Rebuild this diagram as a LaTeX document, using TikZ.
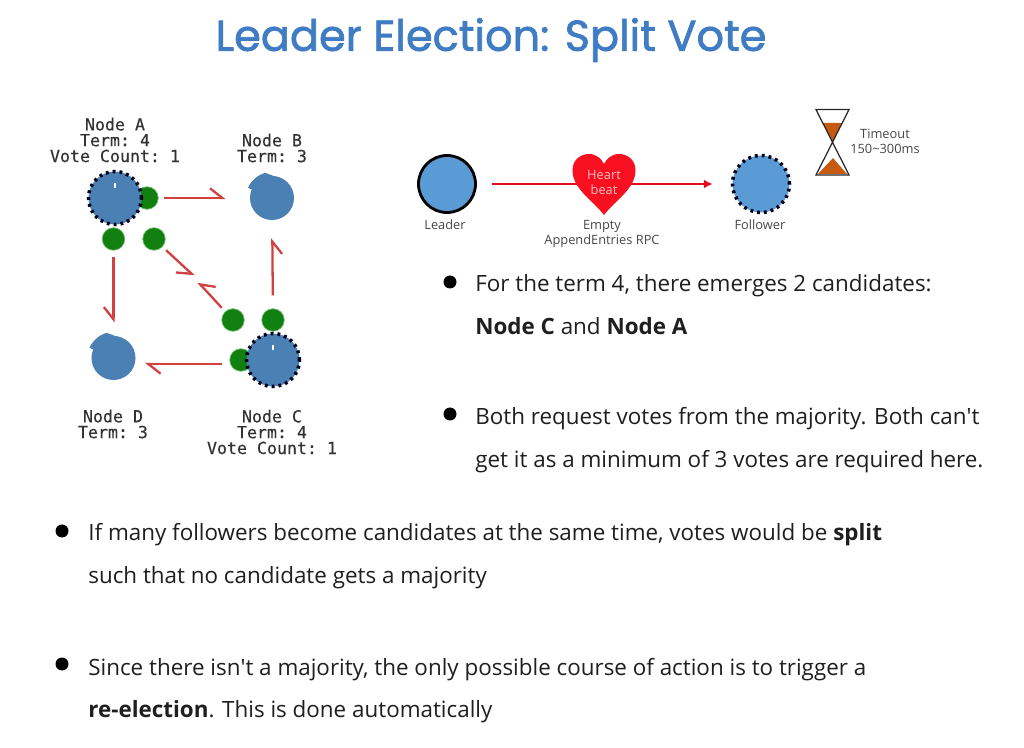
\documentclass[tikz,border=0pt]{standalone}
\usepackage{fontspec}
\setmainfont{Open Sans}
\setmonofont[FakeBold=0.3]{DejaVu Sans Mono}
\newfontfamily\titlefont[FakeBold=1.6]{Poppins}
\usetikzlibrary{arrows.meta,positioning,calc}
\definecolor{titleblue}{HTML}{3F7CC4}
\definecolor{nodeblue}{HTML}{4A80B4}
\definecolor{plainblue}{HTML}{5B9BD5}
\definecolor{votegreen}{HTML}{118011}
\definecolor{voteline}{HTML}{D2403F}
\definecolor{heartred}{HTML}{F80F20}
\definecolor{sand}{HTML}{C55A11}

\begin{document}
\begin{tikzpicture}[
            >=Stealth,
            bodytext/.style={anchor=base west, font=\fontsize{12.75}{14}\selectfont, text=black!88, inner sep=0pt},
            bullet/.style={circle, fill=black, inner sep=0pt, minimum size=0.26cm},
            monotext/.style={align=center, font=\ttfamily\fontsize{9.45}{9}\selectfont, text=black!80, inner sep=0pt},
            smalltext/.style={align=center, font=\fontsize{7.3}{8.6}\selectfont, text=black!72, inner sep=0pt},
            candidate/.style={circle, fill=nodeblue, inner sep=0pt, minimum size=1.06cm,
                              draw=black!90!blue, line width=2pt, dash pattern=on 1.6pt off 2.3pt},
            follower/.style={circle, fill=nodeblue, inner sep=0pt, minimum size=0.88cm},
            vote/.style={circle, fill=votegreen, draw=green!55!black!60, line width=0.4pt, inner sep=0pt, minimum size=0.45cm},
            votearrow/.style={-{Straight Barb[harpoon,length=7pt,width=11pt]}, line width=1.3pt, draw=voteline},
            votearrowswap/.style={-{Straight Barb[harpoon,swap,length=7pt,width=11pt]}, line width=1.3pt, draw=voteline},
            notch/.style={fill=nodeblue}
        ]
        \useasboundingbox (0,0) rectangle (20.48,14.94);
        \fill[white] (0,0) rectangle (20.48,14.94);

        %---------------- Title ----------------%
        \node[font=\titlefont\fontsize{24.5}{28}\selectfont, text=titleblue, inner sep=0pt] (title) at (9.82,14.14) {Leader Election: Split Vote};

        %---------------- Vote dots ----------------%
        \node[vote] (dotab) at (2.94,10.98) {};
        \node[vote] (dotad) at (2.27,10.16) {};
        \node[vote] (dotac) at (3.08,10.16) {};
        \node[vote] (dotca) at (4.66,8.54) {};
        \node[vote] (dotcb) at (5.46,8.54) {};
        \node[vote] (dotcd) at (4.82,7.74) {};

        %---------------- Cluster ----------------%
        \node[candidate] (nodea) at (2.30,10.98) {};
        \node[follower] (nodeb) at (5.44,10.98) {};
        \node[follower] (noded) at (2.27,7.78) {};
        \node[candidate] (nodec) at (5.46,7.74) {};
        \fill[notch] (nodeb.center) -- ++(157:0.52) arc (157:105:0.52) -- ++(-20:0.25) -- cycle;
        \fill[notch] (noded.center) -- ++(157:0.52) arc (157:105:0.52) -- ++(-20:0.25) -- cycle;
        \draw[white, line width=0.7pt] ($(nodea.center)+(0,0.2)$) -- ($(nodea.center)+(0,0.3)$);
        \draw[white, line width=0.7pt] ($(nodec.center)+(0,0.2)$) -- ($(nodec.center)+(0,0.3)$);

        \node[monotext] (labela) at (2.30,12.14) {Node A\\Term: 4\\Vote Count: 1};
        \node[monotext] (labelb) at (5.44,11.98) {Node B\\Term: 3};
        \node[monotext] (labeld) at (2.26,6.46) {Node D\\Term: 3};
        \node[monotext] (labelc) at (5.44,6.30) {Node C\\Term: 4\\Vote Count: 1};

        %================ Vote requests =================%
        \coordinate (midac) at (3.88,9.42);
        \coordinate (midca) at (3.96,9.30);
        \coordinate (portcd) at (4.44,7.66);
        \coordinate (portd) at (2.90,7.66);
        \draw[votearrow, shorten <=0.1cm, shorten >=0.48cm] (dotab) -- (nodeb);
        \draw[votearrowswap, shorten <=0.12cm, shorten >=0.26cm] (dotad) -- (noded);
        \draw[votearrowswap, shorten <=0.1cm, shorten >=0.0cm] (dotac) -- (midac);
        \draw[votearrowswap, shorten <=0.1cm, shorten >=0.0cm] (dotca) -- (midca);
        \draw[votearrowswap, shorten <=0.26cm, shorten >=0.36cm] (dotcb) -- (nodeb);
        \draw[votearrow] (portcd) -- (portd);

        %---------------- Heartbeat legend ----------------%
        \node[circle, fill=plainblue, draw=black, line width=1.6pt, inner sep=0pt, minimum size=1.14cm] (leader) at (8.94,11.26) {};
        \node[circle, fill=plainblue, draw=black!90!blue, line width=2pt, dash pattern=on 1.6pt off 2.3pt, inner sep=0pt, minimum size=1.14cm] (followerlegend) at (15.22,11.26) {};
        \draw[-{Latex[length=5pt,width=5pt]}, line width=1pt, draw=heartred!90!black, shorten <=0.3cm, shorten >=0.36cm] (leader) -- (followerlegend);
        \fill[heartred, shift={(12.08,11.26)}] (0,-0.62)
            .. controls (-0.2,-0.35) and (-0.63,-0.1) .. (-0.63,0.27)
            .. controls (-0.63,0.5) and (-0.45,0.6) .. (-0.3,0.6)
            .. controls (-0.15,0.6) and (-0.05,0.5) .. (0,0.4)
            .. controls (0.05,0.5) and (0.15,0.6) .. (0.3,0.6)
            .. controls (0.45,0.6) and (0.63,0.5) .. (0.63,0.27)
            .. controls (0.63,-0.1) and (0.2,-0.35) .. (0,-0.62) -- cycle;
        \node[smalltext, text=red!25!white] (heart) at (12.08,11.29) {Heart\\beat};
        \node[smalltext] (leaderlabel) at (8.9,10.44) {Leader};
        \node[smalltext] (rpclabel) at (12.04,10.26) {Empty\\AppendEntries RPC};
        \node[smalltext] (followerlabel) at (15.2,10.44) {Follower};

        %---------------- Hourglass ----------------%
        \coordinate (glassa) at (16.32,12.75);
        \coordinate (glassb) at (16.98,12.75);
        \coordinate (glassc) at (16.32,11.44);
        \coordinate (glassd) at (16.98,11.44);
        \fill[sand] (16.46,12.48) -- (16.84,12.48) -- (16.66,12.1) -- cycle;
        \fill[sand] (16.36,11.46) -- (16.94,11.46) -- (16.66,11.78) -- cycle;
        \draw[line width=0.7pt, black!85] (glassa) -- (glassb) -- (glassc) -- (glassd) -- (glassa) -- cycle;
        \node[smalltext] (timeout) at (17.70,12.12) {Timeout\\150\textasciitilde300ms};

        %================ Text =================%
        \node[bullet] (bulleta) at (9.0,9.3) {};
        \node[bodytext] (linea) at (9.5,9.10) {For the term 4, there emerges 2 candidates:};
        \node[bodytext] (lineb) at (9.5,8.26) {\textbf{Node C} and \textbf{Node A}};
        \node[bullet] (bulletb) at (9.0,6.66) {};
        \node[bodytext] (linec) at (9.5,6.44) {Both request votes from the majority. Both can\textquotesingle t};
        \node[bodytext] (lined) at (9.5,5.60) {get it as a minimum of 3 votes are required here.};
        \node[bullet] (bulletc) at (1.24,4.32) {};
        \node[bodytext] (linee) at (1.76,4.12) {If many followers become candidates at the same time, votes would be \textbf{split}};
        \node[bodytext] (linef) at (1.76,3.28) {such that no candidate gets a majority};
        \node[bullet] (bulletd) at (1.24,1.66) {};
        \node[bodytext] (lineg) at (1.76,1.44) {Since there isn\textquotesingle t a majority, the only possible course of action is to trigger a};
        \node[bodytext] (lineh) at (1.76,0.60) {\textbf{re-election}. This is done automatically};

\end{tikzpicture}
\end{document}
